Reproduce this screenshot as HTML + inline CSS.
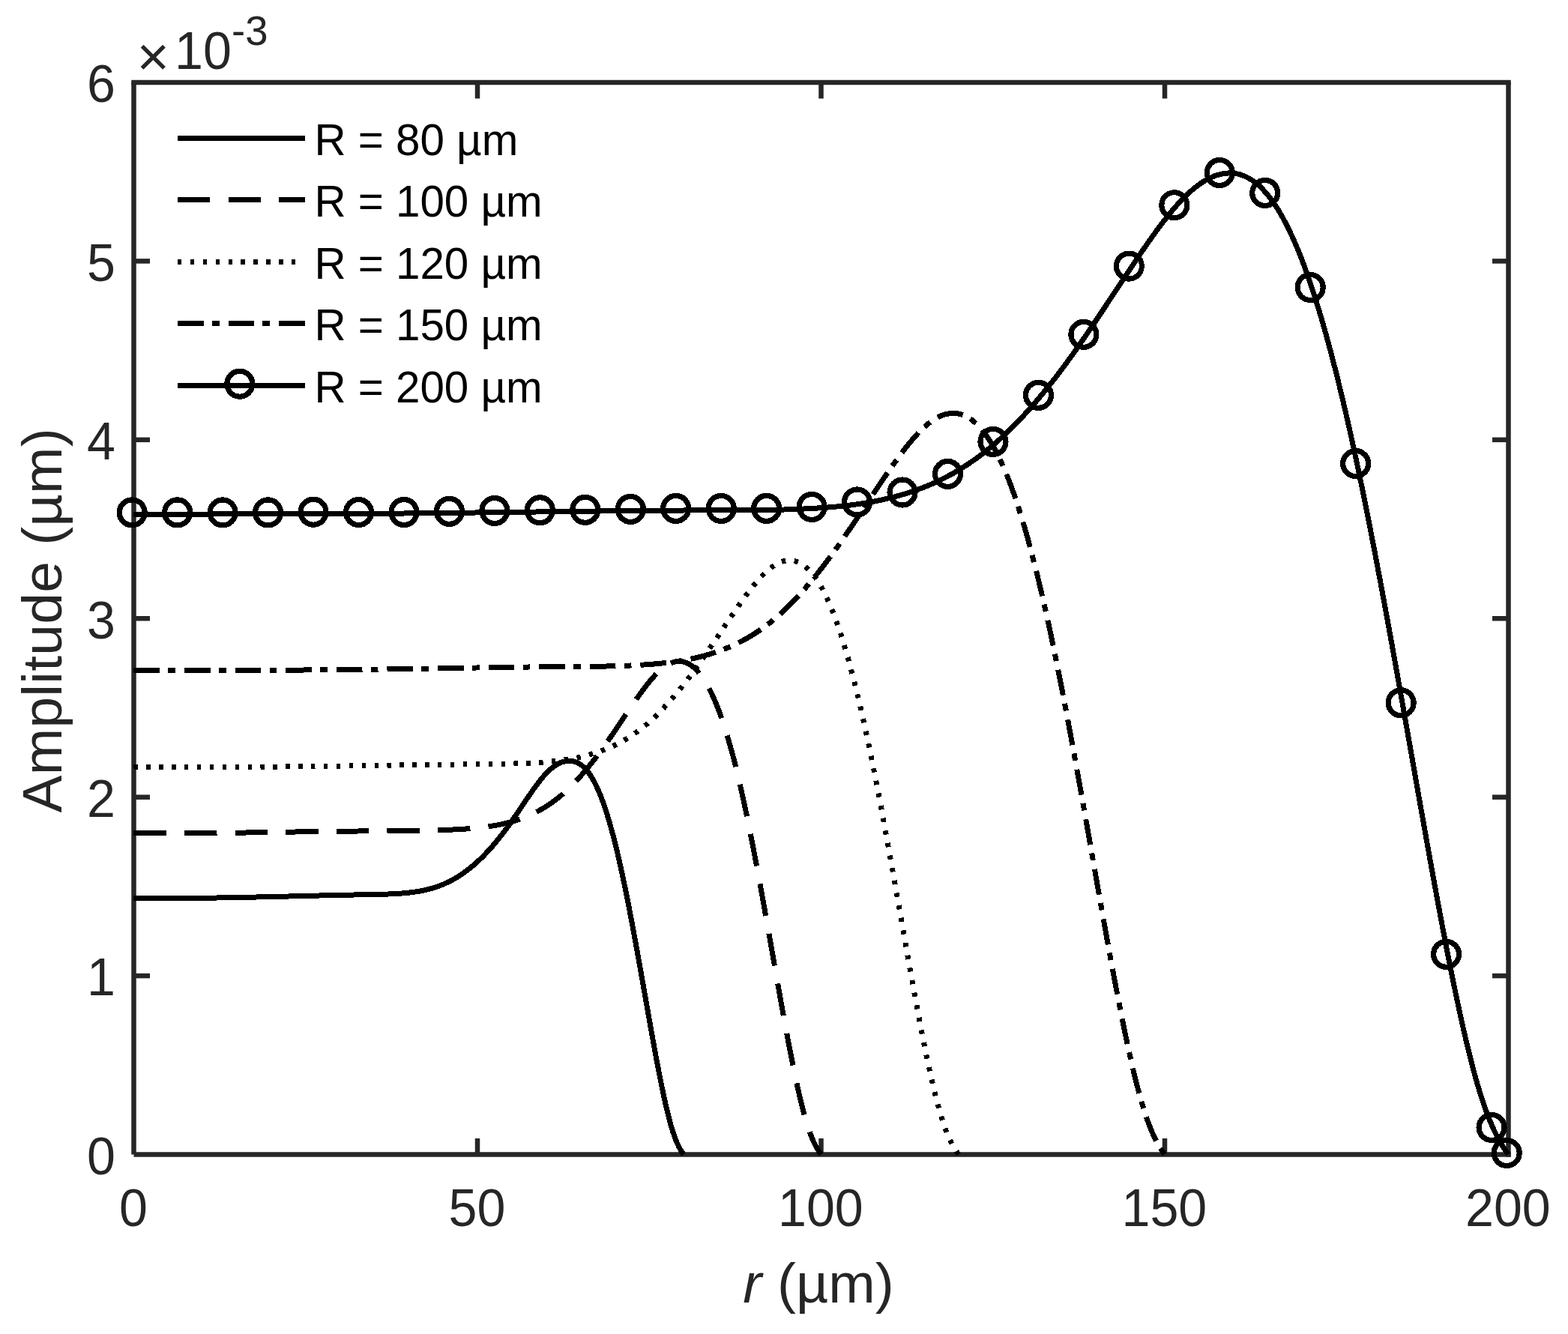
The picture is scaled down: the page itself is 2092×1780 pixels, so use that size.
<!DOCTYPE html>
<html lang="en"><head><meta charset="utf-8"><title>Amplitude vs r</title>
<style>html,body{margin:0;padding:0;background:#fff;}body{width:2092px;height:1780px;overflow:hidden;}svg{display:block;}text{font-family:"Liberation Sans",sans-serif;}.tk{font-size:68.2px;fill:#262626;}.lb{font-size:75px;fill:#262626;}.lg{font-size:58.33px;fill:#000;}.ex{font-size:54.5px;fill:#262626;}</style></head><body>
<svg width="2092" height="1780" viewBox="0 0 2092 1780">
<rect x="0" y="0" width="2092" height="1780" fill="#fff"/>
<g fill="none" stroke="#262626" stroke-width="6.50" stroke-linecap="butt">
<path d="M178.50,1540.50 H2015.75"/>
<path d="M175.25,110.00 H2015.75"/>
<path d="M178.50,1540.50 V110.00"/>
<path d="M2012.50,1543.75 V110.00"/>
<path d="M637.00,1540.50 v-21.50"/>
<path d="M637.00,110.00 v21.50"/>
<path d="M1095.50,1540.50 v-21.50"/>
<path d="M1095.50,110.00 v21.50"/>
<path d="M1554.00,1540.50 v-21.50"/>
<path d="M1554.00,110.00 v21.50"/>
<path d="M178.50,1302.08 h21.50"/>
<path d="M2012.50,1302.08 h-21.50"/>
<path d="M178.50,1063.67 h21.50"/>
<path d="M2012.50,1063.67 h-21.50"/>
<path d="M178.50,825.25 h21.50"/>
<path d="M2012.50,825.25 h-21.50"/>
<path d="M178.50,586.83 h21.50"/>
<path d="M2012.50,586.83 h-21.50"/>
<path d="M178.50,348.42 h21.50"/>
<path d="M2012.50,348.42 h-21.50"/>
</g>
<text class="tk" transform="translate(177.90,1636.00) scale(1,1.025)" text-anchor="middle">0</text>
<text class="tk" transform="translate(636.40,1636.00) scale(1,1.025)" text-anchor="middle">50</text>
<text class="tk" transform="translate(1094.90,1636.00) scale(1,1.025)" text-anchor="middle">100</text>
<text class="tk" transform="translate(1553.40,1636.00) scale(1,1.025)" text-anchor="middle">150</text>
<text class="tk" transform="translate(2011.90,1636.00) scale(1,1.025)" text-anchor="middle">200</text>
<text class="tk" transform="translate(154.00,1566.80) scale(1,1.025)" text-anchor="end">0</text>
<text class="tk" transform="translate(154.00,1328.38) scale(1,1.025)" text-anchor="end">1</text>
<text class="tk" transform="translate(154.00,1089.97) scale(1,1.025)" text-anchor="end">2</text>
<text class="tk" transform="translate(154.00,851.55) scale(1,1.025)" text-anchor="end">3</text>
<text class="tk" transform="translate(154.00,613.13) scale(1,1.025)" text-anchor="end">4</text>
<text class="tk" transform="translate(154.00,374.72) scale(1,1.025)" text-anchor="end">5</text>
<text class="tk" transform="translate(154.00,136.30) scale(1,1.025)" text-anchor="end">6</text>
<text class="tk" transform="translate(182.60,101.10) scale(1,1.000)" text-anchor="start" style="font-size:74.5px">×</text>
<text class="tk" transform="translate(233.10,92.00) scale(1,1.025)" text-anchor="start">10</text>
<text class="ex" transform="translate(309.00,59.60) scale(1,1.025)" text-anchor="start">-3</text>
<text class="lb" x="1091.90" y="1737.5" text-anchor="middle"><tspan font-style="italic">r</tspan> (µm)</text>
<text class="lb" transform="translate(82,827.85) rotate(-90)" text-anchor="middle" letter-spacing="0.25">Amplitude (µm)</text>
<g fill="none" stroke="#000" stroke-width="7.00" stroke-linejoin="round" stroke-linecap="butt" shape-rendering="crispEdges">
<path d="M178.50,1198.49 L180.52,1198.50 L182.53,1198.51 L184.55,1198.51 L186.56,1198.52 L188.58,1198.52 L190.59,1198.53 L192.61,1198.53 L194.62,1198.54 L196.64,1198.54 L198.65,1198.54 L200.67,1198.54 L202.68,1198.55 L204.70,1198.55 L206.72,1198.55 L208.73,1198.55 L210.75,1198.55 L212.76,1198.55 L214.78,1198.54 L216.79,1198.54 L218.81,1198.54 L220.82,1198.54 L222.84,1198.53 L224.85,1198.53 L226.87,1198.52 L228.88,1198.52 L230.90,1198.51 L232.92,1198.50 L234.93,1198.50 L236.95,1198.49 L238.96,1198.48 L240.98,1198.47 L242.99,1198.46 L245.01,1198.45 L247.02,1198.44 L249.04,1198.42 L251.05,1198.41 L253.07,1198.40 L255.08,1198.38 L257.10,1198.37 L259.12,1198.35 L261.13,1198.33 L263.15,1198.32 L265.16,1198.30 L267.18,1198.28 L269.19,1198.26 L271.21,1198.24 L273.22,1198.22 L275.24,1198.19 L277.25,1198.17 L279.27,1198.15 L281.28,1198.12 L283.30,1198.09 L285.32,1198.07 L287.33,1198.04 L289.35,1198.01 L291.36,1197.98 L293.38,1197.95 L295.39,1197.92 L297.41,1197.89 L299.42,1197.85 L301.44,1197.82 L303.45,1197.79 L305.47,1197.75 L307.48,1197.71 L309.50,1197.68 L311.52,1197.64 L313.53,1197.60 L315.55,1197.56 L317.56,1197.52 L319.58,1197.48 L321.59,1197.44 L323.61,1197.40 L325.62,1197.36 L327.64,1197.32 L329.65,1197.28 L331.67,1197.23 L333.68,1197.19 L335.70,1197.15 L337.72,1197.10 L339.73,1197.06 L341.75,1197.01 L343.76,1196.97 L345.78,1196.92 L347.79,1196.87 L349.81,1196.83 L351.82,1196.78 L353.84,1196.74 L355.85,1196.69 L357.87,1196.64 L359.88,1196.59 L361.90,1196.55 L363.92,1196.50 L365.93,1196.45 L367.95,1196.41 L369.96,1196.36 L371.98,1196.31 L373.99,1196.26 L376.01,1196.21 L378.02,1196.17 L380.04,1196.12 L382.05,1196.07 L384.07,1196.02 L386.08,1195.97 L388.10,1195.93 L390.12,1195.88 L392.13,1195.83 L394.15,1195.78 L396.16,1195.73 L398.18,1195.68 L400.19,1195.64 L402.21,1195.59 L404.22,1195.54 L406.24,1195.49 L408.25,1195.44 L410.27,1195.39 L412.28,1195.34 L414.30,1195.30 L416.32,1195.25 L418.33,1195.20 L420.35,1195.15 L422.36,1195.10 L424.38,1195.06 L426.39,1195.01 L428.41,1194.96 L430.42,1194.91 L432.44,1194.87 L434.45,1194.82 L436.47,1194.77 L438.48,1194.73 L440.50,1194.68 L442.52,1194.63 L444.53,1194.59 L446.55,1194.54 L448.56,1194.50 L450.58,1194.45 L452.59,1194.41 L454.61,1194.37 L456.62,1194.32 L458.64,1194.28 L460.65,1194.24 L462.67,1194.19 L464.68,1194.15 L466.70,1194.11 L468.72,1194.07 L470.73,1194.03 L472.75,1193.99 L474.76,1193.95 L476.78,1193.91 L478.79,1193.87 L480.81,1193.84 L482.82,1193.80 L484.84,1193.76 L486.85,1193.73 L488.87,1193.69 L490.88,1193.66 L492.90,1193.62 L494.92,1193.58 L496.93,1193.55 L498.95,1193.51 L500.96,1193.47 L502.98,1193.43 L504.99,1193.38 L507.01,1193.33 L509.02,1193.28 L511.04,1193.23 L513.05,1193.17 L515.07,1193.10 L517.08,1193.03 L519.10,1192.96 L521.12,1192.87 L523.13,1192.78 L525.15,1192.68 L527.16,1192.58 L529.18,1192.46 L531.19,1192.33 L533.21,1192.20 L535.22,1192.05 L537.24,1191.89 L539.25,1191.72 L541.27,1191.53 L543.28,1191.34 L545.30,1191.12 L547.32,1190.90 L549.33,1190.66 L551.35,1190.40 L553.36,1190.12 L555.38,1189.82 L557.39,1189.51 L559.41,1189.17 L561.42,1188.81 L563.44,1188.42 L565.45,1188.01 L567.47,1187.57 L569.48,1187.11 L571.50,1186.61 L573.52,1186.09 L575.53,1185.53 L577.55,1184.95 L579.56,1184.32 L581.58,1183.67 L583.59,1182.97 L585.61,1182.24 L587.62,1181.48 L589.64,1180.67 L591.65,1179.83 L593.67,1178.95 L595.68,1178.04 L597.70,1177.08 L599.72,1176.08 L601.73,1175.05 L603.75,1173.97 L605.76,1172.85 L607.78,1171.69 L609.79,1170.49 L611.81,1169.24 L613.82,1167.96 L615.84,1166.62 L617.85,1165.24 L619.87,1163.82 L621.88,1162.35 L623.90,1160.84 L625.92,1159.28 L627.93,1157.67 L629.95,1156.01 L631.96,1154.30 L633.98,1152.55 L635.99,1150.75 L638.01,1148.89 L640.02,1146.99 L642.04,1145.04 L644.05,1143.04 L646.07,1141.00 L648.08,1138.90 L650.10,1136.76 L652.12,1134.57 L654.13,1132.34 L656.15,1130.06 L658.16,1127.73 L660.18,1125.35 L662.19,1122.94 L664.21,1120.47 L666.22,1117.96 L668.24,1115.41 L670.25,1112.81 L672.27,1110.16 L674.28,1107.47 L676.30,1104.74 L678.32,1101.97 L680.33,1099.15 L682.35,1096.30 L684.36,1093.41 L686.38,1090.49 L688.39,1087.54 L690.41,1084.57 L692.42,1081.59 L694.44,1078.60 L696.45,1075.60 L698.47,1072.61 L700.48,1069.62 L702.50,1066.65 L704.52,1063.69 L706.53,1060.76 L708.55,1057.85 L710.56,1054.98 L712.58,1052.15 L714.59,1049.37 L716.61,1046.64 L718.62,1043.97 L720.64,1041.37 L722.65,1038.86 L724.67,1036.44 L726.68,1034.13 L728.70,1031.93 L730.72,1029.86 L732.73,1027.91 L734.75,1026.10 L736.76,1024.42 L738.78,1022.88 L740.79,1021.47 L742.81,1020.21 L744.82,1019.10 L746.84,1018.13 L748.85,1017.31 L750.87,1016.63 L752.88,1016.10 L754.90,1015.71 L756.92,1015.46 L758.93,1015.35 L760.95,1015.39 L762.96,1015.58 L764.98,1015.93 L766.99,1016.45 L769.01,1017.16 L771.02,1018.06 L773.04,1019.16 L775.05,1020.49 L777.07,1022.04 L779.08,1023.83 L781.10,1025.88 L783.12,1028.18 L785.13,1030.75 L787.15,1033.60 L789.16,1036.73 L791.18,1040.14 L793.19,1043.85 L795.21,1047.86 L797.22,1052.18 L799.24,1056.80 L801.25,1061.74 L803.27,1067.00 L805.28,1072.58 L807.30,1078.49 L809.32,1084.70 L811.33,1091.23 L813.35,1098.06 L815.36,1105.19 L817.38,1112.48 L819.39,1120.23 L821.41,1128.28 L823.42,1136.60 L825.44,1145.20 L827.45,1154.07 L829.47,1163.21 L831.48,1172.60 L833.50,1182.26 L835.52,1192.15 L837.53,1202.26 L839.55,1212.57 L841.56,1223.08 L843.58,1233.75 L845.59,1244.58 L847.61,1255.55 L849.62,1266.64 L851.64,1277.83 L853.65,1289.11 L855.67,1300.46 L857.68,1311.86 L859.70,1323.30 L861.72,1334.75 L863.73,1346.21 L865.75,1357.63 L867.76,1368.99 L869.78,1380.26 L871.79,1391.40 L873.81,1402.40 L875.82,1413.23 L877.84,1423.84 L879.85,1434.22 L881.87,1444.34 L883.88,1454.16 L885.90,1463.65 L887.92,1472.76 L889.93,1481.44 L891.95,1489.64 L893.96,1497.32 L895.98,1504.43 L897.99,1510.91 L900.01,1516.76 L902.02,1522.01 L904.04,1526.69 L906.05,1530.84 L908.07,1534.50 L910.08,1537.71 L912.10,1540.50"/>
<path d="M178.50,1111.60 L181.02,1111.61 L183.54,1111.63 L186.06,1111.64 L188.58,1111.66 L191.10,1111.67 L193.62,1111.68 L196.13,1111.69 L198.65,1111.70 L201.17,1111.71 L203.69,1111.72 L206.21,1111.72 L208.73,1111.73 L211.25,1111.74 L213.77,1111.74 L216.29,1111.74 L218.81,1111.75 L221.33,1111.75 L223.85,1111.75 L226.37,1111.75 L228.88,1111.75 L231.40,1111.75 L233.92,1111.74 L236.44,1111.74 L238.96,1111.73 L241.48,1111.73 L244.00,1111.72 L246.52,1111.72 L249.04,1111.71 L251.56,1111.70 L254.08,1111.69 L256.60,1111.68 L259.12,1111.67 L261.63,1111.65 L264.15,1111.64 L266.67,1111.62 L269.19,1111.61 L271.71,1111.59 L274.23,1111.58 L276.75,1111.56 L279.27,1111.54 L281.79,1111.52 L284.31,1111.50 L286.83,1111.48 L289.35,1111.46 L291.87,1111.43 L294.38,1111.41 L296.90,1111.39 L299.42,1111.36 L301.94,1111.33 L304.46,1111.31 L306.98,1111.28 L309.50,1111.25 L312.02,1111.22 L314.54,1111.19 L317.06,1111.16 L319.58,1111.13 L322.10,1111.09 L324.62,1111.06 L327.13,1111.02 L329.65,1110.99 L332.17,1110.95 L334.69,1110.92 L337.21,1110.88 L339.73,1110.84 L342.25,1110.81 L344.77,1110.77 L347.29,1110.73 L349.81,1110.69 L352.33,1110.65 L354.85,1110.61 L357.37,1110.57 L359.88,1110.53 L362.40,1110.49 L364.92,1110.45 L367.44,1110.41 L369.96,1110.37 L372.48,1110.33 L375.00,1110.29 L377.52,1110.26 L380.04,1110.22 L382.56,1110.18 L385.08,1110.14 L387.60,1110.10 L390.12,1110.06 L392.63,1110.02 L395.15,1109.99 L397.67,1109.95 L400.19,1109.91 L402.71,1109.88 L405.23,1109.84 L407.75,1109.81 L410.27,1109.77 L412.79,1109.74 L415.31,1109.71 L417.83,1109.67 L420.35,1109.64 L422.87,1109.61 L425.38,1109.58 L427.90,1109.55 L430.42,1109.52 L432.94,1109.49 L435.46,1109.46 L437.98,1109.44 L440.50,1109.41 L443.02,1109.38 L445.54,1109.35 L448.06,1109.32 L450.58,1109.30 L453.10,1109.27 L455.62,1109.24 L458.13,1109.22 L460.65,1109.19 L463.17,1109.16 L465.69,1109.14 L468.21,1109.11 L470.73,1109.08 L473.25,1109.06 L475.77,1109.03 L478.29,1109.00 L480.81,1108.98 L483.33,1108.95 L485.85,1108.93 L488.37,1108.90 L490.88,1108.87 L493.40,1108.85 L495.92,1108.82 L498.44,1108.79 L500.96,1108.76 L503.48,1108.74 L506.00,1108.71 L508.52,1108.68 L511.04,1108.65 L513.56,1108.63 L516.08,1108.60 L518.60,1108.57 L521.12,1108.54 L523.63,1108.51 L526.15,1108.48 L528.67,1108.45 L531.19,1108.42 L533.71,1108.39 L536.23,1108.36 L538.75,1108.33 L541.27,1108.30 L543.79,1108.27 L546.31,1108.24 L548.83,1108.21 L551.35,1108.17 L553.87,1108.14 L556.38,1108.11 L558.90,1108.07 L561.42,1108.04 L563.94,1108.00 L566.46,1107.96 L568.98,1107.93 L571.50,1107.89 L574.02,1107.85 L576.54,1107.80 L579.06,1107.76 L581.58,1107.71 L584.10,1107.65 L586.62,1107.59 L589.13,1107.53 L591.65,1107.45 L594.17,1107.38 L596.69,1107.29 L599.21,1107.20 L601.73,1107.10 L604.25,1106.99 L606.77,1106.88 L609.29,1106.75 L611.81,1106.62 L614.33,1106.47 L616.85,1106.32 L619.37,1106.15 L621.88,1105.98 L624.40,1105.79 L626.92,1105.59 L629.44,1105.37 L631.96,1105.15 L634.48,1104.91 L637.00,1104.66 L639.52,1104.39 L642.04,1104.10 L644.56,1103.80 L647.08,1103.49 L649.60,1103.15 L652.12,1102.79 L654.63,1102.42 L657.15,1102.02 L659.67,1101.59 L662.19,1101.14 L664.71,1100.67 L667.23,1100.16 L669.75,1099.63 L672.27,1099.07 L674.79,1098.48 L677.31,1097.86 L679.83,1097.20 L682.35,1096.51 L684.87,1095.78 L687.38,1095.01 L689.90,1094.21 L692.42,1093.37 L694.94,1092.49 L697.46,1091.57 L699.98,1090.60 L702.50,1089.59 L705.02,1088.53 L707.54,1087.42 L710.06,1086.27 L712.58,1085.06 L715.10,1083.80 L717.62,1082.49 L720.13,1081.12 L722.65,1079.70 L725.17,1078.22 L727.69,1076.67 L730.21,1075.07 L732.73,1073.40 L735.25,1071.67 L737.77,1069.87 L740.29,1068.01 L742.81,1066.08 L745.33,1064.07 L747.85,1062.00 L750.37,1059.85 L752.88,1057.63 L755.40,1055.34 L757.92,1052.98 L760.44,1050.55 L762.96,1048.05 L765.48,1045.49 L768.00,1042.86 L770.52,1040.16 L773.04,1037.40 L775.56,1034.58 L778.08,1031.70 L780.60,1028.75 L783.12,1025.75 L785.63,1022.68 L788.15,1019.56 L790.67,1016.38 L793.19,1013.14 L795.71,1009.85 L798.23,1006.50 L800.75,1003.10 L803.27,999.65 L805.79,996.15 L808.31,992.60 L810.83,989.02 L813.35,985.39 L815.87,981.74 L818.38,978.06 L820.90,974.36 L823.42,970.65 L825.94,966.92 L828.46,963.19 L830.98,959.45 L833.50,955.72 L836.02,951.99 L838.54,948.27 L841.06,944.57 L843.58,940.89 L846.10,937.23 L848.62,933.61 L851.13,930.02 L853.65,926.48 L856.17,923.00 L858.69,919.58 L861.21,916.25 L863.73,913.00 L866.25,909.85 L868.77,906.82 L871.29,903.91 L873.81,901.14 L876.33,898.51 L878.85,896.04 L881.37,893.75 L883.88,891.64 L886.40,889.73 L888.92,888.02 L891.44,886.52 L893.96,885.25 L896.48,884.20 L899.00,883.39 L901.52,882.82 L904.04,882.50 L906.56,882.43 L909.08,882.62 L911.60,883.08 L914.12,883.79 L916.63,884.79 L919.15,886.06 L921.67,887.62 L924.19,889.47 L926.71,891.62 L929.23,894.08 L931.75,896.85 L934.27,899.94 L936.79,903.35 L939.31,907.08 L941.83,911.12 L944.35,915.50 L946.87,920.21 L949.38,925.28 L951.90,930.70 L954.42,936.49 L956.94,942.66 L959.46,949.21 L961.98,956.16 L964.50,963.49 L967.02,971.21 L969.54,979.31 L972.06,987.79 L974.58,996.65 L977.10,1005.47 L979.62,1015.17 L982.13,1025.22 L984.65,1035.63 L987.17,1046.38 L989.69,1057.46 L992.21,1068.88 L994.73,1080.63 L997.25,1092.69 L999.77,1105.06 L1002.29,1117.70 L1004.81,1130.59 L1007.33,1143.72 L1009.85,1157.07 L1012.37,1170.60 L1014.88,1184.31 L1017.40,1198.17 L1019.92,1212.16 L1022.44,1226.26 L1024.96,1240.45 L1027.48,1254.70 L1030.00,1269.00 L1032.52,1283.32 L1035.04,1297.63 L1037.56,1311.91 L1040.08,1326.11 L1042.60,1340.19 L1045.12,1354.13 L1047.63,1367.88 L1050.15,1381.41 L1052.67,1394.68 L1055.19,1407.66 L1057.71,1420.30 L1060.23,1432.58 L1062.75,1444.44 L1065.27,1455.82 L1067.79,1466.67 L1070.31,1476.92 L1072.83,1486.52 L1075.35,1495.41 L1077.87,1503.52 L1080.38,1510.83 L1082.90,1517.39 L1085.42,1523.24 L1087.94,1528.42 L1090.46,1533.00 L1092.98,1537.01 L1095.50,1540.50" stroke-dasharray="43.4 24.2"/>
<path d="M178.50,1023.99 L181.52,1023.97 L184.55,1023.96 L187.57,1023.94 L190.59,1023.93 L193.62,1023.91 L196.64,1023.90 L199.66,1023.89 L202.68,1023.87 L205.71,1023.86 L208.73,1023.85 L211.75,1023.84 L214.78,1023.83 L217.80,1023.82 L220.82,1023.81 L223.85,1023.80 L226.87,1023.79 L229.89,1023.78 L232.92,1023.77 L235.94,1023.76 L238.96,1023.75 L241.98,1023.74 L245.01,1023.73 L248.03,1023.72 L251.05,1023.71 L254.08,1023.70 L257.10,1023.69 L260.12,1023.68 L263.15,1023.67 L266.17,1023.66 L269.19,1023.65 L272.22,1023.65 L275.24,1023.64 L278.26,1023.62 L281.28,1023.61 L284.31,1023.60 L287.33,1023.59 L290.35,1023.58 L293.38,1023.57 L296.40,1023.56 L299.42,1023.54 L302.45,1023.53 L305.47,1023.52 L308.49,1023.50 L311.52,1023.49 L314.54,1023.47 L317.56,1023.46 L320.58,1023.44 L323.61,1023.42 L326.63,1023.41 L329.65,1023.39 L332.68,1023.37 L335.70,1023.35 L338.72,1023.33 L341.75,1023.31 L344.77,1023.28 L347.79,1023.26 L350.82,1023.24 L353.84,1023.21 L356.86,1023.19 L359.88,1023.16 L362.91,1023.13 L365.93,1023.10 L368.95,1023.08 L371.98,1023.05 L375.00,1023.02 L378.02,1022.99 L381.05,1022.96 L384.07,1022.92 L387.09,1022.89 L390.12,1022.86 L393.14,1022.83 L396.16,1022.79 L399.18,1022.76 L402.21,1022.72 L405.23,1022.69 L408.25,1022.65 L411.28,1022.61 L414.30,1022.58 L417.32,1022.54 L420.35,1022.50 L423.37,1022.47 L426.39,1022.43 L429.42,1022.39 L432.44,1022.35 L435.46,1022.31 L438.48,1022.27 L441.51,1022.24 L444.53,1022.20 L447.55,1022.16 L450.58,1022.12 L453.60,1022.08 L456.62,1022.04 L459.65,1022.00 L462.67,1021.96 L465.69,1021.92 L468.72,1021.88 L471.74,1021.84 L474.76,1021.80 L477.78,1021.76 L480.81,1021.72 L483.83,1021.67 L486.85,1021.63 L489.88,1021.59 L492.90,1021.55 L495.92,1021.51 L498.95,1021.47 L501.97,1021.43 L504.99,1021.39 L508.02,1021.34 L511.04,1021.30 L514.06,1021.26 L517.08,1021.22 L520.11,1021.18 L523.13,1021.14 L526.15,1021.09 L529.18,1021.05 L532.20,1021.01 L535.22,1020.97 L538.25,1020.93 L541.27,1020.89 L544.29,1020.84 L547.32,1020.80 L550.34,1020.76 L553.36,1020.72 L556.38,1020.68 L559.41,1020.64 L562.43,1020.60 L565.45,1020.56 L568.48,1020.52 L571.50,1020.48 L574.52,1020.44 L577.55,1020.40 L580.57,1020.36 L583.59,1020.32 L586.62,1020.28 L589.64,1020.25 L592.66,1020.21 L595.68,1020.17 L598.71,1020.14 L601.73,1020.10 L604.75,1020.07 L607.78,1020.03 L610.80,1020.00 L613.82,1019.96 L616.85,1019.93 L619.87,1019.90 L622.89,1019.86 L625.92,1019.83 L628.94,1019.80 L631.96,1019.77 L634.98,1019.74 L638.01,1019.71 L641.03,1019.68 L644.05,1019.65 L647.08,1019.63 L650.10,1019.60 L653.12,1019.57 L656.15,1019.54 L659.17,1019.50 L662.19,1019.47 L665.22,1019.43 L668.24,1019.38 L671.26,1019.33 L674.28,1019.28 L677.31,1019.22 L680.33,1019.15 L683.35,1019.08 L686.38,1019.00 L689.40,1018.90 L692.42,1018.81 L695.45,1018.70 L698.47,1018.58 L701.49,1018.45 L704.52,1018.31 L707.54,1018.16 L710.56,1017.99 L713.58,1017.81 L716.61,1017.62 L719.63,1017.42 L722.65,1017.20 L725.68,1016.96 L728.70,1016.71 L731.72,1016.44 L734.75,1016.15 L737.77,1015.85 L740.79,1015.52 L743.82,1015.17 L746.84,1014.80 L749.86,1014.40 L752.88,1013.98 L755.91,1013.52 L758.93,1013.04 L761.95,1012.52 L764.98,1011.98 L768.00,1011.39 L771.02,1010.78 L774.05,1010.12 L777.07,1009.43 L780.09,1008.69 L783.12,1007.91 L786.14,1007.09 L789.16,1006.23 L792.18,1005.32 L795.21,1004.36 L798.23,1003.35 L801.25,1002.29 L804.28,1001.18 L807.30,1000.01 L810.32,998.78 L813.35,997.50 L816.37,996.15 L819.39,994.74 L822.42,993.27 L825.44,991.73 L828.46,990.12 L831.48,988.44 L834.51,986.68 L837.53,984.85 L840.55,982.95 L843.58,980.96 L846.60,978.90 L849.62,976.75 L852.65,974.52 L855.67,972.20 L858.69,969.80 L861.72,967.30 L864.74,964.71 L867.76,962.03 L870.78,959.27 L873.81,956.42 L876.83,953.48 L879.85,950.46 L882.88,947.35 L885.90,944.17 L888.92,940.90 L891.95,937.56 L894.97,934.14 L897.99,930.64 L901.02,927.07 L904.04,923.43 L907.06,919.71 L910.08,915.93 L913.11,912.08 L916.13,908.16 L919.15,904.18 L922.18,900.13 L925.20,896.02 L928.22,891.85 L931.25,887.62 L934.27,883.35 L937.29,879.02 L940.32,874.66 L943.34,870.26 L946.36,865.84 L949.38,861.39 L952.41,856.92 L955.43,852.44 L958.45,847.95 L961.48,843.45 L964.50,838.95 L967.52,834.46 L970.55,829.99 L973.57,825.52 L976.59,821.08 L979.62,816.66 L982.64,812.27 L985.66,807.92 L988.68,803.62 L991.71,799.38 L994.73,795.21 L997.75,791.13 L1000.78,787.15 L1003.80,783.28 L1006.82,779.53 L1009.85,775.92 L1012.87,772.46 L1015.89,769.17 L1018.92,766.07 L1021.94,763.16 L1024.96,760.47 L1027.98,758.01 L1031.01,755.78 L1034.03,753.81 L1037.05,752.10 L1040.08,750.66 L1043.10,749.50 L1046.12,748.62 L1049.15,748.05 L1052.17,747.78 L1055.19,747.82 L1058.22,748.18 L1061.24,748.86 L1064.26,749.89 L1067.28,751.27 L1070.31,753.01 L1073.33,755.12 L1076.35,757.61 L1079.38,760.49 L1082.40,763.78 L1085.42,767.48 L1088.45,771.59 L1091.47,776.12 L1094.49,781.08 L1097.52,786.46 L1100.54,792.29 L1103.56,798.56 L1106.58,805.28 L1109.61,812.46 L1112.63,820.12 L1115.65,828.24 L1118.68,836.85 L1121.70,845.91 L1124.72,855.45 L1127.75,865.43 L1130.77,875.86 L1133.79,886.73 L1136.82,898.46 L1139.84,910.10 L1142.86,922.17 L1145.88,934.65 L1148.91,947.55 L1151.93,960.86 L1154.95,974.56 L1157.98,988.66 L1161.00,1003.13 L1164.02,1017.97 L1167.05,1033.14 L1170.07,1048.61 L1173.09,1064.37 L1176.12,1080.38 L1179.14,1096.63 L1182.16,1113.08 L1185.18,1129.71 L1188.21,1146.50 L1191.23,1163.41 L1194.25,1180.44 L1197.28,1197.54 L1200.30,1214.70 L1203.32,1231.88 L1206.35,1249.06 L1209.37,1266.19 L1212.39,1283.23 L1215.42,1300.13 L1218.44,1316.86 L1221.46,1333.36 L1224.48,1349.59 L1227.51,1365.52 L1230.53,1381.09 L1233.55,1396.26 L1236.58,1410.99 L1239.60,1425.23 L1242.62,1438.89 L1245.65,1451.91 L1248.67,1464.21 L1251.69,1475.73 L1254.72,1486.39 L1257.74,1496.12 L1260.76,1504.90 L1263.78,1512.76 L1266.81,1519.78 L1269.83,1526.01 L1272.85,1531.50 L1275.88,1536.31 L1278.90,1540.50" stroke-dasharray="5.4 11.5"/>
<path d="M178.50,895.00 L182.28,894.97 L186.06,894.93 L189.84,894.90 L193.62,894.87 L197.39,894.84 L201.17,894.81 L204.95,894.79 L208.73,894.76 L212.51,894.74 L216.29,894.72 L220.07,894.69 L223.85,894.67 L227.62,894.65 L231.40,894.64 L235.18,894.62 L238.96,894.60 L242.74,894.59 L246.52,894.57 L250.30,894.56 L254.08,894.54 L257.86,894.53 L261.63,894.52 L265.41,894.51 L269.19,894.49 L272.97,894.48 L276.75,894.47 L280.53,894.46 L284.31,894.45 L288.09,894.44 L291.87,894.43 L295.64,894.43 L299.42,894.42 L303.20,894.41 L306.98,894.40 L310.76,894.39 L314.54,894.38 L318.32,894.37 L322.10,894.36 L325.88,894.35 L329.65,894.34 L333.43,894.33 L337.21,894.32 L340.99,894.31 L344.77,894.30 L348.55,894.29 L352.33,894.27 L356.11,894.26 L359.88,894.25 L363.66,894.23 L367.44,894.22 L371.22,894.20 L375.00,894.18 L378.78,894.16 L382.56,894.14 L386.34,894.12 L390.12,894.10 L393.89,894.08 L397.67,894.06 L401.45,894.03 L405.23,894.01 L409.01,893.98 L412.79,893.95 L416.57,893.92 L420.35,893.89 L424.12,893.86 L427.90,893.83 L431.68,893.80 L435.46,893.77 L439.24,893.73 L443.02,893.70 L446.80,893.66 L450.58,893.63 L454.36,893.59 L458.13,893.55 L461.91,893.51 L465.69,893.47 L469.47,893.43 L473.25,893.39 L477.03,893.34 L480.81,893.30 L484.59,893.25 L488.37,893.21 L492.14,893.16 L495.92,893.12 L499.70,893.07 L503.48,893.02 L507.26,892.97 L511.04,892.92 L514.82,892.87 L518.60,892.82 L522.38,892.77 L526.15,892.71 L529.93,892.66 L533.71,892.61 L537.49,892.55 L541.27,892.50 L545.05,892.44 L548.83,892.39 L552.61,892.33 L556.38,892.27 L560.16,892.21 L563.94,892.16 L567.72,892.10 L571.50,892.04 L575.28,891.98 L579.06,891.92 L582.84,891.86 L586.62,891.80 L590.39,891.74 L594.17,891.68 L597.95,891.62 L601.73,891.55 L605.51,891.49 L609.29,891.43 L613.07,891.37 L616.85,891.31 L620.62,891.25 L624.40,891.19 L628.18,891.13 L631.96,891.06 L635.74,891.00 L639.52,890.94 L643.30,890.88 L647.08,890.83 L650.86,890.77 L654.63,890.71 L658.41,890.65 L662.19,890.59 L665.97,890.54 L669.75,890.48 L673.53,890.43 L677.31,890.37 L681.09,890.32 L684.87,890.27 L688.64,890.21 L692.42,890.16 L696.20,890.11 L699.98,890.07 L703.76,890.02 L707.54,889.97 L711.32,889.93 L715.10,889.89 L718.88,889.84 L722.65,889.80 L726.43,889.76 L730.21,889.72 L733.99,889.69 L737.77,889.65 L741.55,889.62 L745.33,889.59 L749.11,889.56 L752.88,889.53 L756.66,889.50 L760.44,889.48 L764.22,889.46 L768.00,889.43 L771.78,889.41 L775.56,889.38 L779.34,889.36 L783.12,889.33 L786.89,889.29 L790.67,889.26 L794.45,889.22 L798.23,889.17 L802.01,889.12 L805.79,889.06 L809.57,888.99 L813.35,888.91 L817.12,888.82 L820.90,888.73 L824.68,888.62 L828.46,888.50 L832.24,888.37 L836.02,888.23 L839.80,888.07 L843.58,887.90 L847.36,887.71 L851.13,887.51 L854.91,887.29 L858.69,887.05 L862.47,886.79 L866.25,886.52 L870.03,886.22 L873.81,885.91 L877.59,885.57 L881.37,885.20 L885.14,884.81 L888.92,884.38 L892.70,883.93 L896.48,883.44 L900.26,882.92 L904.04,882.36 L907.82,881.76 L911.60,881.12 L915.38,880.44 L919.15,879.71 L922.93,878.94 L926.71,878.12 L930.49,877.25 L934.27,876.33 L938.05,875.35 L941.83,874.32 L945.61,873.23 L949.38,872.08 L953.16,870.86 L956.94,869.59 L960.72,868.24 L964.50,866.83 L968.28,865.34 L972.06,863.78 L975.84,862.15 L979.62,860.43 L983.39,858.63 L987.17,856.74 L990.95,854.77 L994.73,852.71 L998.51,850.55 L1002.29,848.30 L1006.07,845.95 L1009.85,843.51 L1013.62,840.95 L1017.40,838.30 L1021.18,835.53 L1024.96,832.66 L1028.74,829.67 L1032.52,826.57 L1036.30,823.35 L1040.08,820.02 L1043.86,816.57 L1047.63,813.01 L1051.41,809.34 L1055.19,805.57 L1058.97,801.68 L1062.75,797.70 L1066.53,793.61 L1070.31,789.42 L1074.09,785.14 L1077.87,780.75 L1081.64,776.27 L1085.42,771.70 L1089.20,767.04 L1092.98,762.28 L1096.76,757.44 L1100.54,752.52 L1104.32,747.50 L1108.10,742.41 L1111.88,737.23 L1115.65,731.98 L1119.43,726.65 L1123.21,721.26 L1126.99,715.80 L1130.77,710.30 L1134.55,704.75 L1138.33,699.16 L1142.11,693.55 L1145.88,687.90 L1149.66,682.24 L1153.44,676.57 L1157.22,670.90 L1161.00,665.22 L1164.78,659.56 L1168.56,653.90 L1172.34,648.28 L1176.12,642.67 L1179.89,637.11 L1183.67,631.58 L1187.45,626.11 L1191.23,620.71 L1195.01,615.38 L1198.79,610.15 L1202.57,605.04 L1206.35,600.06 L1210.12,595.22 L1213.90,590.55 L1217.68,586.05 L1221.46,581.75 L1225.24,577.67 L1229.02,573.82 L1232.80,570.22 L1236.58,566.90 L1240.36,563.86 L1244.13,561.13 L1247.91,558.71 L1251.69,556.62 L1255.47,554.86 L1259.25,553.45 L1263.03,552.40 L1266.81,551.72 L1270.59,551.42 L1274.37,551.50 L1278.14,551.97 L1281.92,552.85 L1285.70,554.15 L1289.48,555.88 L1293.26,558.06 L1297.04,560.69 L1300.82,563.79 L1304.60,567.38 L1308.37,571.46 L1312.15,576.05 L1315.93,581.14 L1319.71,586.75 L1323.49,592.88 L1327.27,599.54 L1331.05,606.74 L1334.83,614.48 L1338.61,622.79 L1342.38,631.67 L1346.16,641.14 L1349.94,651.19 L1353.72,661.84 L1357.50,673.08 L1361.28,684.89 L1365.06,697.27 L1368.84,710.21 L1372.62,723.72 L1376.39,737.95 L1380.17,752.50 L1383.95,767.58 L1387.73,783.19 L1391.51,799.31 L1395.29,815.95 L1399.07,833.08 L1402.85,850.70 L1406.63,868.79 L1410.40,887.34 L1414.18,906.29 L1417.96,925.64 L1421.74,945.33 L1425.52,965.35 L1429.30,985.66 L1433.08,1006.22 L1436.86,1027.01 L1440.63,1048.00 L1444.41,1069.14 L1448.19,1090.42 L1451.97,1111.80 L1455.75,1133.24 L1459.53,1154.73 L1463.31,1176.20 L1467.09,1197.61 L1470.87,1218.91 L1474.64,1240.04 L1478.42,1260.95 L1482.20,1281.57 L1485.98,1301.86 L1489.76,1321.77 L1493.54,1341.23 L1497.32,1360.20 L1501.10,1378.62 L1504.88,1396.41 L1508.65,1413.48 L1512.43,1429.76 L1516.21,1445.14 L1519.99,1459.53 L1523.77,1472.86 L1527.55,1485.02 L1531.33,1495.99 L1535.11,1505.83 L1538.88,1514.60 L1542.66,1522.39 L1546.44,1529.25 L1550.22,1535.26 L1554.00,1540.50" stroke-dasharray="34.6 11.3 9.7 12"/>
<path d="M178.50,686.30 L183.54,686.28 L188.58,686.25 L193.62,686.23 L198.65,686.21 L203.69,686.19 L208.73,686.17 L213.77,686.15 L218.81,686.14 L223.85,686.12 L228.88,686.11 L233.92,686.10 L238.96,686.08 L244.00,686.07 L249.04,686.06 L254.08,686.05 L259.12,686.04 L264.15,686.03 L269.19,686.02 L274.23,686.02 L279.27,686.01 L284.31,686.00 L289.35,685.99 L294.38,685.99 L299.42,685.98 L304.46,685.98 L309.50,685.97 L314.54,685.96 L319.58,685.96 L324.62,685.95 L329.65,685.95 L334.69,685.94 L339.73,685.93 L344.77,685.93 L349.81,685.92 L354.85,685.91 L359.88,685.90 L364.92,685.90 L369.96,685.89 L375.00,685.88 L380.04,685.87 L385.08,685.86 L390.12,685.85 L395.15,685.83 L400.19,685.82 L405.23,685.81 L410.27,685.79 L415.31,685.78 L420.35,685.76 L425.38,685.74 L430.42,685.72 L435.46,685.70 L440.50,685.68 L445.54,685.66 L450.58,685.64 L455.62,685.61 L460.65,685.59 L465.69,685.56 L470.73,685.53 L475.77,685.50 L480.81,685.46 L485.85,685.43 L490.88,685.40 L495.92,685.36 L500.96,685.32 L506.00,685.29 L511.04,685.25 L516.08,685.21 L521.12,685.16 L526.15,685.12 L531.19,685.08 L536.23,685.03 L541.27,684.99 L546.31,684.94 L551.35,684.89 L556.38,684.84 L561.42,684.79 L566.46,684.74 L571.50,684.69 L576.54,684.64 L581.58,684.59 L586.62,684.54 L591.65,684.48 L596.69,684.43 L601.73,684.37 L606.77,684.31 L611.81,684.26 L616.85,684.20 L621.88,684.14 L626.92,684.08 L631.96,684.03 L637.00,683.97 L642.04,683.91 L647.08,683.85 L652.12,683.79 L657.15,683.72 L662.19,683.66 L667.23,683.60 L672.27,683.54 L677.31,683.48 L682.35,683.41 L687.38,683.35 L692.42,683.29 L697.46,683.23 L702.50,683.16 L707.54,683.10 L712.58,683.04 L717.62,682.97 L722.65,682.91 L727.69,682.85 L732.73,682.78 L737.77,682.72 L742.81,682.66 L747.85,682.59 L752.88,682.53 L757.92,682.47 L762.96,682.41 L768.00,682.35 L773.04,682.28 L778.08,682.22 L783.12,682.16 L788.15,682.10 L793.19,682.05 L798.23,681.99 L803.27,681.93 L808.31,681.87 L813.35,681.82 L818.38,681.76 L823.42,681.71 L828.46,681.66 L833.50,681.61 L838.54,681.56 L843.58,681.51 L848.62,681.46 L853.65,681.42 L858.69,681.37 L863.73,681.33 L868.77,681.29 L873.81,681.25 L878.85,681.21 L883.88,681.17 L888.92,681.14 L893.96,681.11 L899.00,681.08 L904.04,681.05 L909.08,681.02 L914.12,680.99 L919.15,680.97 L924.19,680.95 L929.23,680.93 L934.27,680.92 L939.31,680.90 L944.35,680.89 L949.38,680.88 L954.42,680.87 L959.46,680.87 L964.50,680.86 L969.54,680.86 L974.58,680.85 L979.62,680.84 L984.65,680.83 L989.69,680.81 L994.73,680.79 L999.77,680.76 L1004.81,680.72 L1009.85,680.67 L1014.88,680.62 L1019.92,680.56 L1024.96,680.48 L1030.00,680.39 L1035.04,680.29 L1040.08,680.17 L1045.12,680.04 L1050.15,679.89 L1055.19,679.73 L1060.23,679.55 L1065.27,679.34 L1070.31,679.12 L1075.35,678.88 L1080.38,678.61 L1085.42,678.32 L1090.46,678.01 L1095.50,677.67 L1100.54,677.31 L1105.58,676.92 L1110.62,676.50 L1115.65,676.04 L1120.69,675.55 L1125.73,675.02 L1130.77,674.44 L1135.81,673.83 L1140.85,673.17 L1145.88,672.46 L1150.92,671.70 L1155.96,670.88 L1161.00,670.02 L1166.04,669.09 L1171.08,668.10 L1176.12,667.05 L1181.15,665.93 L1186.19,664.74 L1191.23,663.49 L1196.27,662.15 L1201.31,660.75 L1206.35,659.26 L1211.38,657.70 L1216.42,656.05 L1221.46,654.31 L1226.50,652.48 L1231.54,650.56 L1236.58,648.54 L1241.62,646.43 L1246.65,644.20 L1251.69,641.88 L1256.73,639.44 L1261.77,636.89 L1266.81,634.22 L1271.85,631.43 L1276.88,628.52 L1281.92,625.49 L1286.96,622.32 L1292.00,619.02 L1297.04,615.59 L1302.08,612.02 L1307.12,608.31 L1312.15,604.45 L1317.19,600.44 L1322.23,596.28 L1327.27,591.98 L1332.31,587.53 L1337.35,582.93 L1342.38,578.19 L1347.42,573.31 L1352.46,568.28 L1357.50,563.12 L1362.54,557.82 L1367.58,552.39 L1372.62,546.82 L1377.65,541.12 L1382.69,535.29 L1387.73,529.32 L1392.77,523.24 L1397.81,517.02 L1402.85,510.69 L1407.88,504.23 L1412.92,497.64 L1417.96,490.94 L1423.00,484.12 L1428.04,477.19 L1433.08,470.15 L1438.12,463.00 L1443.15,455.76 L1448.19,448.44 L1453.23,441.05 L1458.27,433.60 L1463.31,426.09 L1468.35,418.53 L1473.38,410.94 L1478.42,403.33 L1483.46,395.70 L1488.50,388.07 L1493.54,380.44 L1498.58,372.82 L1503.62,365.22 L1508.65,357.66 L1513.69,350.13 L1518.73,342.66 L1523.77,335.25 L1528.81,327.93 L1533.85,320.71 L1538.88,313.63 L1543.92,306.69 L1548.96,299.93 L1554.00,293.36 L1559.04,287.00 L1564.08,280.89 L1569.12,275.03 L1574.15,269.45 L1579.19,264.18 L1584.23,259.23 L1589.27,254.62 L1594.31,250.39 L1599.35,246.53 L1604.38,243.07 L1609.42,240.02 L1614.46,237.38 L1619.50,235.18 L1624.54,233.42 L1629.58,232.11 L1634.62,231.28 L1639.65,230.92 L1644.69,231.06 L1649.73,231.72 L1654.77,232.93 L1659.81,234.70 L1664.85,237.07 L1669.88,240.04 L1674.92,243.64 L1679.96,247.91 L1685.00,252.85 L1690.04,258.48 L1695.08,264.82 L1700.12,271.88 L1705.15,279.68 L1710.19,288.21 L1715.23,297.50 L1720.27,307.56 L1725.31,318.39 L1730.35,330.02 L1735.38,342.45 L1740.42,355.69 L1745.46,369.75 L1750.50,384.60 L1755.54,400.24 L1760.58,416.66 L1765.62,433.84 L1770.65,451.77 L1775.69,470.44 L1780.73,489.83 L1785.77,509.94 L1790.81,530.75 L1795.85,552.25 L1800.88,574.43 L1805.92,597.27 L1810.96,620.76 L1816.00,644.89 L1821.04,669.61 L1826.08,694.89 L1831.12,720.68 L1836.15,746.95 L1841.19,773.63 L1846.23,800.71 L1851.27,828.13 L1856.31,855.85 L1861.35,883.83 L1866.38,912.02 L1871.42,940.40 L1876.46,968.90 L1881.50,997.49 L1886.54,1026.13 L1891.58,1054.77 L1896.62,1083.32 L1901.65,1111.72 L1906.69,1139.89 L1911.73,1167.76 L1916.77,1195.26 L1921.81,1222.32 L1926.85,1248.86 L1931.88,1274.81 L1936.92,1300.10 L1941.96,1324.66 L1947.00,1348.38 L1952.04,1371.15 L1957.08,1392.84 L1962.12,1413.35 L1967.15,1432.55 L1972.19,1450.31 L1977.23,1466.53 L1982.27,1481.16 L1987.31,1494.27 L1992.35,1505.97 L1997.38,1516.35 L2002.42,1525.50 L2007.46,1533.52 L2012.50,1540.50"/>
</g>
<g fill="none" stroke="#000" stroke-width="7.20" shape-rendering="crispEdges">
<circle cx="176.20" cy="683.90" r="17.00"/>
<circle cx="236.66" cy="683.90" r="17.00"/>
<circle cx="297.12" cy="683.90" r="17.00"/>
<circle cx="357.58" cy="683.90" r="17.00"/>
<circle cx="418.05" cy="683.20" r="17.00"/>
<circle cx="478.51" cy="683.50" r="17.00"/>
<circle cx="538.97" cy="683.50" r="17.00"/>
<circle cx="599.43" cy="682.30" r="17.00"/>
<circle cx="659.89" cy="681.40" r="17.00"/>
<circle cx="720.35" cy="680.80" r="17.00"/>
<circle cx="780.82" cy="680.30" r="17.00"/>
<circle cx="841.28" cy="679.40" r="17.00"/>
<circle cx="901.74" cy="678.40" r="17.00"/>
<circle cx="962.20" cy="678.40" r="17.00"/>
<circle cx="1022.66" cy="678.40" r="17.00"/>
<circle cx="1083.12" cy="676.40" r="17.00"/>
<circle cx="1143.58" cy="670.00" r="17.00"/>
<circle cx="1204.05" cy="657.00" r="17.00"/>
<circle cx="1264.51" cy="632.40" r="17.00"/>
<circle cx="1324.97" cy="589.40" r="17.00"/>
<circle cx="1385.43" cy="527.30" r="17.00"/>
<circle cx="1445.89" cy="446.30" r="17.00"/>
<circle cx="1506.35" cy="355.10" r="17.00"/>
<circle cx="1566.82" cy="273.70" r="17.00"/>
<circle cx="1627.28" cy="230.50" r="17.00"/>
<circle cx="1687.74" cy="257.40" r="17.00"/>
<circle cx="1748.20" cy="383.40" r="17.00"/>
<circle cx="1808.66" cy="618.50" r="17.00"/>
<circle cx="1869.12" cy="937.80" r="17.00"/>
<circle cx="1929.58" cy="1273.30" r="17.00"/>
<circle cx="1990.05" cy="1504.40" r="17.00"/>
<circle cx="2010.20" cy="1538.40" r="17.00"/>
</g>
<g fill="none" stroke="#000" stroke-width="7.00" shape-rendering="crispEdges">
<path d="M236.90,184.40 H407.00"/>
<path d="M236.90,266.90 H407.00" stroke-dasharray="43.4 24.2"/>
<path d="M236.90,349.40 H404.00" stroke-dasharray="5.4 11.5"/>
<path d="M236.90,431.90 H407.00" stroke-dasharray="34.6 11.3 9.7 12"/>
<path d="M236.90,514.40 H407.00"/>
<circle cx="319.85" cy="512.20" r="17.00" stroke-width="7.20"/>
</g>
<text class="lg" transform="translate(419.40,206.90) scale(1,1.030)" text-anchor="start">R = 80 µm</text>
<text class="lg" transform="translate(419.40,289.40) scale(1,1.030)" text-anchor="start">R = 100 µm</text>
<text class="lg" transform="translate(419.40,371.90) scale(1,1.030)" text-anchor="start">R = 120 µm</text>
<text class="lg" transform="translate(419.40,454.40) scale(1,1.030)" text-anchor="start">R = 150 µm</text>
<text class="lg" transform="translate(419.40,536.90) scale(1,1.030)" text-anchor="start">R = 200 µm</text>
</svg></body></html>
